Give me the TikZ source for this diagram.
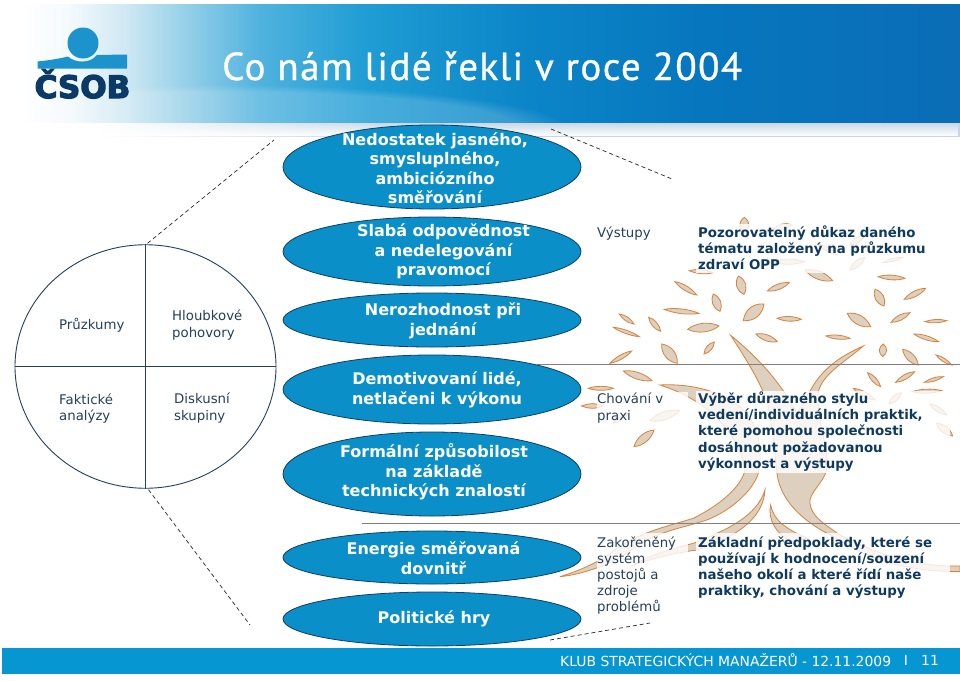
\documentclass[tikz,border=0pt]{standalone}
\usepackage{fontspec}
\usetikzlibrary{shapes.geometric,fadings,calc}
\setmainfont{DejaVu Sans}
\newfontfamily\boldfont{DejaVu Sans Bold}
\newfontfamily\logofont[FakeBold=4]{DejaVu Sans Bold}
\newfontfamily\titlefont[LetterSpace=3.8,FakeBold=0.8]{PT Sans}
\definecolor{navy}{HTML}{0F3A60}
\definecolor{slate}{HTML}{24405C}
\definecolor{ellblue}{HTML}{0A8FC8}
\definecolor{ellline}{HTML}{0F3F63}
\definecolor{tan}{HTML}{DDD0BF}
\definecolor{ochre}{HTML}{D9823B}
\definecolor{footblue}{HTML}{0696D2}
\definecolor{logoblue}{HTML}{1C93CC}
\definecolor{logonavy}{HTML}{0B3A66}
\definecolor{HdrZ}{HTML}{F4FAFD}
\definecolor{HdrA}{HTML}{CFE8F3}
\definecolor{HdrB}{HTML}{8FCDE7}
\definecolor{HdrC}{HTML}{4FB2DE}
\definecolor{HdrD}{HTML}{1F9DD4}
\definecolor{HdrE}{HTML}{0C86C8}
\definecolor{HdrF}{HTML}{0676BE}
\definecolor{HdrG}{HTML}{0A6DB6}
\definecolor{BandA}{HTML}{C6D6E4}
\pgfdeclarehorizontalshading{hdr}{100bp}{color(0bp)=(white); color(26bp)=(white); color(28.5bp)=(HdrZ); color(31.5bp)=(HdrA); color(35bp)=(HdrB); color(38.5bp)=(HdrC); color(44bp)=(HdrD); color(52bp)=(HdrE); color(62bp)=(HdrF); color(75bp)=(HdrG); color(100bp)=(HdrG)}
\pgfdeclarehorizontalshading{band}{100bp}{color(0bp)=(white); color(30bp)=(white); color(45bp)=(BandA); color(100bp)=(BandA)}
\tikzset{
  bluell/.style={shape=ellipse,draw=ellline,line width=0.8pt,fill=ellblue,inner sep=0pt,minimum width=298pt},
  elltext/.style={text=white,align=center,font=\boldfont\fontsize{16}{19.5}\selectfont,inner sep=0pt},
  smalltext/.style={text=slate,align=left,anchor=west,inner sep=0pt,font=\fontsize{13.3}{16.2}\selectfont},
  strongtext/.style={text=navy,align=left,anchor=west,inner sep=0pt,font=\boldfont\fontsize{13.35}{16.2}\selectfont},
  circletext/.style={text=slate,align=left,anchor=west,inner sep=0pt,font=\fontsize{13.3}{16.4}\selectfont},
  dashline/.style={draw=black!80,dashed,dash pattern=on 4pt off 3pt,line width=0.75pt},
  greyline/.style={draw=black!50,line width=1pt},
  treepart/.style={fill=tan,draw=ochre,line width=0.8pt},
  veil/.style={fill=white,fill opacity=0.8,draw=none},
}
\newcommand{\leafat}[5]{%
  \pgfmathsetmacro{\ldx}{#3-#1}\pgfmathsetmacro{\ldy}{#4-#2}%
  \pgfmathsetmacro{\lL}{max(veclen(\ldx,\ldy),1)}%
  \pgfmathsetmacro{\lnx}{-\ldy/\lL*#5*0.667}\pgfmathsetmacro{\lny}{\ldx/\lL*#5*0.667}%
  \draw[treepart] (#1,#2) .. controls ({#1+.3*\ldx+\lnx},{#2+.3*\ldy+\lny}) and ({#1+.7*\ldx+\lnx},{#2+.7*\ldy+\lny}) .. (#3,#4)
     .. controls ({#1+.7*\ldx-\lnx},{#2+.7*\ldy-\lny}) and ({#1+.3*\ldx-\lnx},{#2+.3*\ldy-\lny}) .. cycle;}
\begin{document}
\begin{tikzpicture}[x=1pt,y=-1pt]
\useasboundingbox (0,0) rectangle (960,680);
\fill[white] (0,0) rectangle (960,680);
% header band
\fill[shading=band] (0,122) rectangle (960,136);
\fill[white,path fading=north] (0,122) rectangle (960,136);
\begin{scope}
  \clip (1,4) rectangle (960,122);
  \fill[shading=hdr] (1,4) rectangle (960,122);
  \fill[white,opacity=.18,path fading=circle with fuzzy edge 15 percent] (230,130) ellipse [x radius=340,y radius=45];
\end{scope}
\node[text=white,inner sep=0pt,anchor=base west,font=\titlefont\fontsize{39}{39}\selectfont] (title) at (222,80) {Co nám lidé řekli v roce 2004};
% logo
\fill[logoblue] (83,43) circle (15.5);
\fill[logoblue] (37.5,68.5) -- (37.5,61.5) .. controls (52,60) and (62,58) .. (68,56.5) .. controls (75,63) and (90,64) .. (97,55) -- (127,54.5) -- (127,68.5) -- cycle;
\node[text=logonavy,inner sep=0pt,anchor=base,font=\logofont\fontsize{31}{31}\selectfont] (logo) at (82.5,98) {ČSOB};
% tree
\begin{scope}[shift={(560,200)},x=0.3333pt,y=-0.3333pt]
  % left trunk and root
  \draw[treepart] (300,555) .. controls (400,550) and (480,575) .. (540,620) .. controls (590,660) and (610,740) .. (597,810)
     .. controls (590,860) and (520,930) .. (440,960) .. controls (370,985) and (290,990) .. (200,1060)
     .. controls (150,1095) and (60,1125) .. (0,1130) .. controls (50,1115) and (110,1090) .. (150,1060)
     .. controls (230,1000) and (300,985) .. (400,955) .. controls (480,915) and (545,860) .. (555,810)
     .. controls (540,720) and (470,610) .. (300,555) -- cycle;
  % centre and right trunk with branch 1
  \draw[treepart] (710,640) .. controls (690,600) and (640,510) .. (512,406) .. controls (560,480) and (610,560) .. (625,620)
     .. controls (640,700) and (645,760) .. (650,810) .. controls (655,880) and (700,950) .. (820,1010)
     .. controls (900,1060) and (1000,1115) .. (1200,1115) -- (1200,1098) .. controls (1050,1100) and (950,1060) .. (840,1005)
     .. controls (790,970) and (755,950) .. (750,910) .. controls (745,880) and (790,850) .. (800,810)
     .. controls (810,740) and (770,680) .. (775,575) .. controls (790,520) and (850,490) .. (910,438)
     .. controls (850,465) and (790,500) .. (752,570) .. controls (740,590) and (725,620) .. (710,640) -- cycle;
  % small roots
  \draw[treepart] (615,870) .. controls (590,950) and (500,990) .. (400,1030) .. controls (340,1045) and (270,1065) .. (220,1095)
     .. controls (280,1075) and (340,1060) .. (410,1050) .. controls (520,1015) and (610,960) .. (615,870) -- cycle;
  \draw[treepart] (632,915) .. controls (622,960) and (650,1000) .. (690,1025) -- (745,1015) .. controls (680,990) and (640,960) .. (632,915) -- cycle;
  % leaves
  \leafat{345}{245}{410}{285}{14}
  \leafat{535}{228}{552}{283}{28}
  \leafat{622}{273}{688}{248}{16}
  \leafat{735}{210}{818}{242}{24}
  \leafat{955}{230}{1035}{235}{14}
  \leafat{945}{268}{972}{318}{26}
  \leafat{1033}{298}{1097}{265}{16}
  \leafat{460}{282}{480}{334}{25}
  \leafat{313}{328}{417}{340}{14}
  \leafat{550}{362}{612}{312}{34}
  \leafat{652}{355}{724}{358}{14}
  \leafat{862}{340}{932}{380}{28}
  \leafat{993}{367}{1050}{338}{16}
  \leafat{1095}{365}{1160}{362}{10}
  \leafat{178}{342}{222}{372}{12}
  \leafat{266}{352}{302}{394}{16}
  \leafat{160}{382}{238}{410}{10}
  \leafat{383}{388}{477}{378}{26}
  \leafat{588}{402}{652}{425}{18}
  \leafat{798}{408}{870}{415}{12}
  \leafat{1062}{402}{1136}{425}{12}
  \leafat{432}{462}{463}{426}{16}
  \leafat{305}{432}{352}{490}{30}
  \leafat{150}{490}{215}{453}{12}
  \leafat{968}{470}{970}{432}{22}
  \leafat{1028}{448}{1075}{495}{22}
  \leafat{1128}{465}{1175}{495}{10}
  \leafat{190}{513}{276}{542}{20}
  \leafat{923}{518}{962}{560}{14}
  \leafat{1007}{547}{1064}{515}{14}
  \leafat{1093}{547}{1150}{530}{10}
  \leafat{85}{565}{160}{565}{12}
  \leafat{65}{618}{130}{618}{14}
  \leafat{270}{662}{358}{632}{24}
  \leafat{222}{740}{282}{690}{24}
  \leafat{553}{52}{553}{98}{28}
  \leafat{640}{88}{695}{74}{18}
  \leafat{870}{135}{915}{105}{16}
  \leafat{770}{130}{830}{165}{10}
  \leafat{640}{185}{732}{185}{16}
  \leafat{388}{212}{460}{218}{12}
  \leafat{870}{210}{915}{172}{18}
  \leafat{968}{188}{1028}{172}{8}
  \leafat{880}{565}{945}{600}{14}
  \leafat{1057}{575}{1145}{572}{12}
  \leafat{987}{612}{1024}{578}{16}
  \leafat{1110}{612}{1160}{645}{14}
  \leafat{1130}{670}{1178}{708}{20}
  \leafat{160}{670}{205}{640}{10}
\end{scope}
% veils over the tree behind the text
\fill[veil] (597,225) rectangle (655,241);
\fill[veil] (696,224) rectangle (930,273);
\fill[veil] (597,392) rectangle (688,425);
\fill[veil] (696,391) rectangle (950,473);
\fill[veil] (597,533) rectangle (688,617);
\fill[veil] (696,533) rectangle (950,600);
% rules
\coordinate (ruleAa) at (537,364.5);
\coordinate (ruleAb) at (960,364.5);
\coordinate (ruleBa) at (362,523);
\coordinate (ruleBb) at (960,523);
\draw[greyline] (ruleAa) -- (ruleAb);
\draw[greyline] (ruleBa) -- (ruleBb);
% circle
\node[shape=ellipse,draw=slate,line width=0.9pt,inner sep=0pt,minimum width=261pt,minimum height=243.5pt] (circ) at (145.5,366.5) {};
\draw[draw=slate,line width=1pt] (circ.north) -- (circ.south);
\draw[draw=slate,line width=1pt] (circ.west) -- (circ.east);
\node[circletext] (c1) at (59,325) {Průzkumy};
\node[circletext] (c2) at (172,325) {Hloubkové\\pohovory};
\node[circletext] (c3) at (59,408.5) {Faktické\\analýzy};
\node[circletext] (c4) at (174,408) {Diskusní\\skupiny};
% dashed connectors
\coordinate (dtl) at (274,140);
\coordinate (dbl) at (250,625);
\coordinate (dtra) at (551,129);
\coordinate (dtr) at (672,179);
\coordinate (dbra) at (550,640);
\coordinate (dbr) at (650,623);
\draw[dashline] (circ.north) ++(2,-1) -- (dtl);
\draw[dashline] (circ.south) ++(3,1) -- (dbl);
\draw[dashline] (dtra) -- (dtr);
\draw[dashline] (dbra) -- (dbr);
% ellipses
\node[bluell,minimum height=84pt] (e1) at (432,167) {};
\node[bluell,minimum height=69pt] (e2) at (432,251.5) {};
\node[bluell,minimum height=54pt] (e3) at (432,320) {};
\node[bluell,minimum height=69pt] (e4) at (432,389.5) {};
\node[bluell,minimum height=84pt] (e5) at (432,474) {};
\node[bluell,minimum height=53pt] (e6) at (432,557.5) {};
\node[bluell,minimum height=54pt] (e7) at (432,619) {};
\node[elltext] (t1) at (435,168) {Nedostatek jasného,\\smysluplného,\\ambiciózního\\směřování};
\node[elltext] (t2) at (443.5,251.5) {Slabá odpovědnost\\a nedelegování\\pravomocí};
\node[elltext] (t3) at (443,321) {Nerozhodnost při\\jednání};
\node[elltext] (t4) at (437,390) {Demotivovaní lidé,\\netlačeni k výkonu};
\node[elltext] (t5) at (434,472) {Formální způsobilost\\na základě\\technických znalostí};
\node[elltext] (t6) at (433.5,558) {Energie směřovaná\\dovnitř};
\node[elltext] (t7) at (434,619) {Politické hry};
% right column
\node[smalltext] (r1) at (597,233.5) {Výstupy};
\node[strongtext] (s1) at (698,248) {Pozorovatelný důkaz daného\\tématu založený na průzkumu\\zdraví OPP};
\node[smalltext] (r2) at (597,408) {Chování v\\praxi};
\node[strongtext] (s2) at (698,431.5) {Výběr důrazného stylu\\vedení/individuálních praktik,\\které pomohou společnosti\\dosáhnout požadovanou\\výkonnost a výstupy};
\node[smalltext] (r3) at (597,575.5) {Zakořeněný\\systém\\postojů a\\zdroje\\problémů};
\node[strongtext] (s3) at (698,567.5) {Základní předpoklady, které se\\používají k hodnocení/souzení\\našeho okolí a které řídí naše\\praktiky, chování a výstupy};
% footer
\fill[footblue] (2,648) rectangle (960,674);
\node[text=white,inner sep=0pt,anchor=west,font=\fontsize{13.9}{16}\selectfont] (foot) at (560,660.5) {KLUB STRATEGICKÝCH MANAŽERŮ - 12.11.2009};
\node[text=white,inner sep=0pt,font=\fontsize{13.9}{16}\selectfont] (footbar) at (906,660.5) {I};
\node[text=white,inner sep=0pt,font=\fontsize{13.9}{16}\selectfont] (footnum) at (930,660.5) {11};
\end{tikzpicture}
\end{document}
